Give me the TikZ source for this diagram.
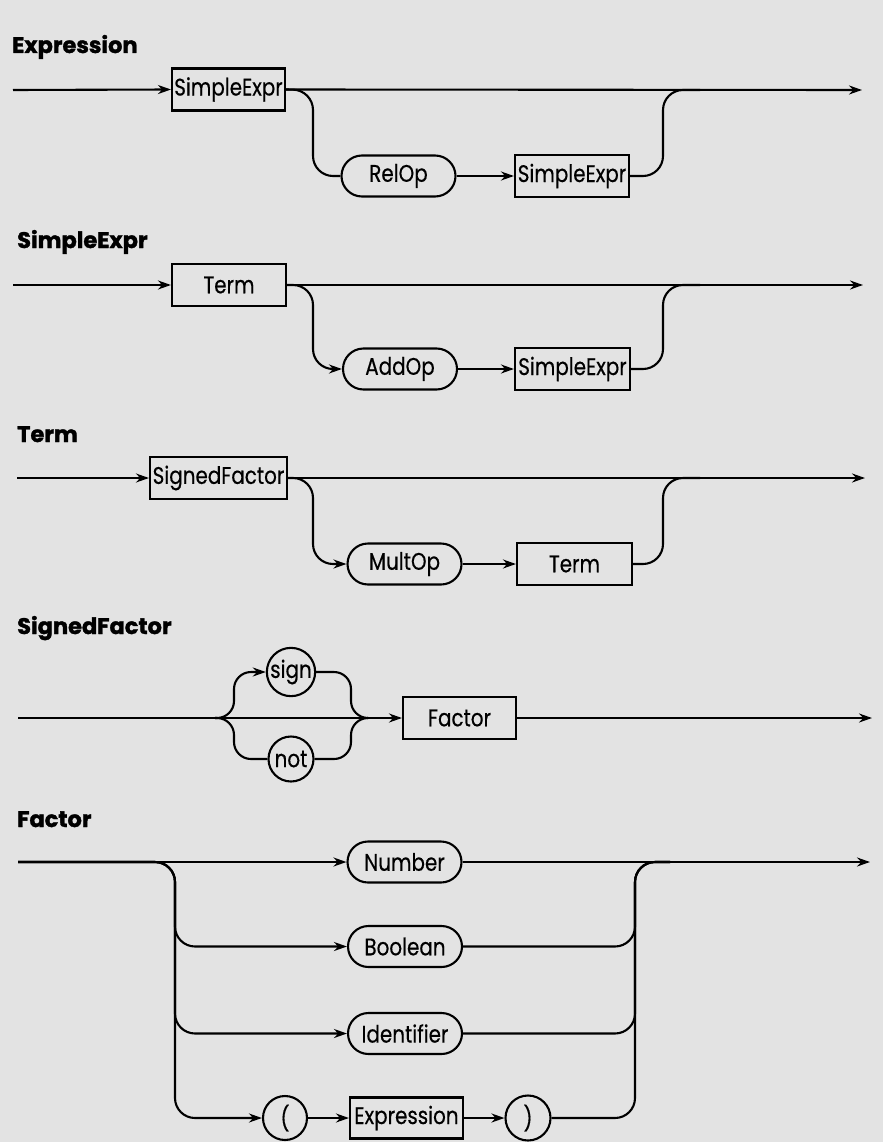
\documentclass[tikz,border=0pt]{standalone}
\usepackage{fontspec}
\setmainfont{Poppins}[FakeStretch=0.83, FakeBold=0.4]
\newfontfamily\headfont{Poppins}[BoldFeatures={FakeBold=1.5}]
\usetikzlibrary{arrows.meta,shapes.misc}

\definecolor{paper}{HTML}{E3E3E3}

\tikzset{
  rail/.style={line width=2.1pt},
  heading/.style={anchor=base west, font=\headfont\fontsize{22.5}{24}\selectfont\bfseries, inner sep=0pt},
  nonterm/.style={draw, rail, rectangle, minimum height=42pt, inner sep=0pt, font=\fontsize{24}{26}\selectfont},
  term/.style={draw, rail, rounded rectangle, minimum height=41pt, minimum width=114pt, inner sep=0pt, font=\fontsize{24}{26}\selectfont},
  symb/.style={draw, rail, circle, minimum size=45pt, inner sep=0pt, font=\fontsize{24}{26}\selectfont},
}

\begin{document}
\begin{tikzpicture}[>={Stealth[length=13pt,width=9pt]}, x=1pt, y=-1pt]
    \fill[paper] (0,0) rectangle (883,1142);
    \useasboundingbox (0,0) rectangle (883,1142);

    % Expression
    \node[heading] (hExpr) at (12,53) {Expression};
    \coordinate (eS) at (13,90);
    \coordinate (eE) at (862,90);
    \node[nonterm, minimum width=113pt] (eSimple) at (228.5,89.5) {SimpleExpr};
    \node[term] (eRel) at (398.5,176) {RelOp};
    \node[nonterm, minimum width=114pt] (eSimple2) at (572,176) {SimpleExpr};
    \draw[rail,->] (eS) -- (eSimple.west);
    \draw[rail,->] (eSimple.east) -- (eE);
    \draw[rail, rounded corners=20pt] (eSimple.east) -- (313,90) -- (313,176) -- (eRel.west);
    \draw[rail,->] (eRel.east) -- (eSimple2.west);
    \draw[rail, rounded corners=20pt] (eSimple2.east) -- (663,176) -- (663,90) -- (700,90);

    % SimpleExpr
    \node[heading] (hSimple) at (17,248) {SimpleExpr};
    \coordinate (sS) at (13,285);
    \coordinate (sE) at (863,285);
    \node[nonterm, minimum width=114pt] (sTerm) at (229,285) {Term};
    \node[term] (sAdd) at (400,369) {AddOp};
    \node[nonterm, minimum width=115pt] (sSimple) at (572.5,369) {SimpleExpr};
    \draw[rail,->] (sS) -- (sTerm.west);
    \draw[rail,->] (sTerm.east) -- (sE);
    \draw[rail,->, rounded corners=20pt] (sTerm.east) -- (313,285) -- (313,369) -- (sAdd.west);
    \draw[rail,->] (sAdd.east) -- (sSimple.west);
    \draw[rail, rounded corners=20pt] (sSimple.east) -- (663,369) -- (663,285) -- (700,285);

    % Term
    \node[heading] (hTerm) at (17,442) {Term};
    \coordinate (tS) at (17,478);
    \coordinate (tE) at (865,478);
    \node[nonterm, minimum width=137pt] (tSigned) at (218.5,478) {SignedFactor};
    \node[term] (tMult) at (404.5,564) {MultOp};
    \node[nonterm, minimum width=115pt] (tTerm) at (574.5,564) {Term};
    \draw[rail,->] (tS) -- (tSigned.west);
    \draw[rail,->] (tSigned.east) -- (tE);
    \draw[rail,->, rounded corners=20pt] (tSigned.east) -- (313,478) -- (313,564) -- (tMult.west);
    \draw[rail,->] (tMult.east) -- (tTerm.west);
    \draw[rail, rounded corners=20pt] (tTerm.east) -- (663,564) -- (663,478) -- (700,478);

    % SignedFactor
    \node[heading] (hSigned) at (17,634) {SignedFactor};
    \coordinate (gS) at (18,718);
    \coordinate (gSplit) at (215,718);
    \coordinate (gJoin) at (367,718);
    \coordinate (gE) at (872,718);
    \node[symb] (gSign) at (291,672) {sign};
    \node[symb] (gNot) at (291,759) {not};
    \node[nonterm, minimum width=113pt] (gFactor) at (459.5,718) {Factor};
    \draw[rail,->] (gS) -- (gFactor.west);
    \draw[rail,->] (gFactor.east) -- (gE);
    \draw[rail,->, rounded corners=17pt] (gSplit) -- (234,718) -- (234,672) -- (gSign.west);
    \draw[rail, rounded corners=17pt] (gSplit) -- (234,718) -- (234,759) -- (gNot.west);
    \draw[rail, rounded corners=17pt] (gSign.east) -- (351,672) -- (351,718) -- (gJoin);
    \draw[rail, rounded corners=17pt] (gNot.east) -- (351,759) -- (351,718) -- (gJoin);

    % Factor
    \node[heading] (hFactor) at (17,827) {Factor};
    \coordinate (fS) at (18,862);
    \coordinate (fE) at (870,862);
    \node[term] (fNum) at (404.5,862) {Number};
    \node[term] (fBool) at (405,946.5) {Boolean};
    \node[term] (fIdent) at (405,1033.5) {Identifier};
    \node[symb, minimum size=44pt] (fOpen) at (285,1118) {(};
    \node[nonterm, minimum width=113pt, minimum height=41pt] (fExpr) at (406.5,1118) {Expression};
    \node[symb] (fClose) at (528,1118) {)};
    \draw[rail,->] (fS) -- (fNum.west);
    \draw[rail,->] (fNum.east) -- (fE);
    \foreach \n in {fBool,fIdent,fOpen}{
        \draw[rail,->, rounded corners=20pt] (fS) -- (175,862) |- (\n.west);
    }
    \draw[rail,->] (fOpen.east) -- (fExpr.west);
    \draw[rail,->] (fExpr.east) -- (fClose.west);
    \foreach \n in {fBool,fIdent,fClose}{
        \draw[rail, rounded corners=20pt] (\n.east) -| (635,862) -- (670,862);
    }
\end{tikzpicture}
\end{document}
